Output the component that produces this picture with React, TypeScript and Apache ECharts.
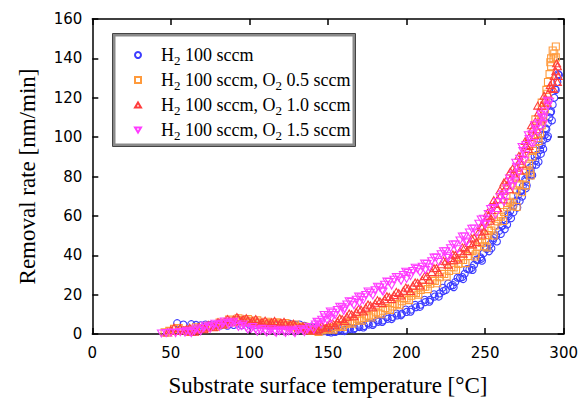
import React, { useEffect, useRef } from "react";
import * as echarts from "echarts";

const xRange = { min: 0, max: 300, interval: 50 };
const yRange = { min: 0, max: 160, interval: 20 };
const xTitle = "Substrate surface temperature [°C]";
const yTitle = "Removal rate [nm/min]";
const seriesNames = [
  "H2 100 sccm",
  "H2 100 sccm, O2 0.5 sccm",
  "H2 100 sccm, O2 1.0 sccm",
  "H2 100 sccm, O2 1.5 sccm",
];

const blueData = [
  [54,5.5],[58,4.8],[63,5.0],[66,4.6],[69,4.4],[72,4.8],[75,4.5],[78,4.7],[82,4.4],[86,4.2],[90,4.6],[95,4.4],[100,4.8],[104,4.5],[108,4.7],[112,4.3],[116,4.6],[120,4.9],[123,4.4],[126,5.1],[129,4.6],[132,4.8],[135,4.2],[138,3.5],[141,2.8],[144,2.0],[147,1.4],[150,1.0],[152,0.8],[155,1.3],[158,1.6],[161,2.1],[164,2.5],[167,3.0],[170,3.5],[173,4.1],[176,4.8],[179,5.4],[182,6.2],[185,6.9],[188,7.7],[191,8.6],[194,9.4],[197,10.3],[200,11.2],[203,12.4],[206,13.6],[209,14.9],[212,16.2],[215,17.4],[218,19.0],[221,20.6],[223,23.5],[225,22.4],[228,24.4],[231,26.4],[234,28.4],[237,30.6],[240,32.8],[243,35.2],[245,37.5],[247,39.0],[249,41.0],[251,43.2],[253,45.5],[255,47.6],[257,50.0],[259,52.4],[261,55.0],[263,57.6],[265,60.0],[266,62.5],[268,65.0],[270,67.8],[271,70.5],[273,72.6],[274,75.0],[276,77.8],[277,80.5],[279,83.0],[280,85.5],[282,88.0],[283,91.0],[285,93.5],[286,96.0],[287,98.5],[288,101.0],[289,104.0],[290,107.0],[291,110.0],[292,113.0],[293,116.5],[294,120.0],[295,124.0],[296,128.0],[297,131.5],
  [230,23.8],[236,27.9],[242,32.5],[248,37.2],[254,43.5],[260,50.8],[264,55.6],[268,61.8],[272,67.5],[276,74.0],[280,80.6],[284,87.5],[287,94.0],[290,100.5],
  [139.5,3.8],[142.5,2.9],[145.5,2.2],[148.5,1.6],[151.5,1.9],[154.5,1.0],[157.5,2.4],[160.5,1.5],[163.5,3.2],[166.5,2.4],[169.5,4.2],[172.5,3.3],[175.5,5.6],[178.5,4.6],[181.5,7.0],[184.5,6.1],[187.5,8.6],[190.5,7.6],[193.5,10.4],[196.5,9.5],[199.5,12.4],[202.5,11.3],[205.5,14.8],[208.5,13.8],[211.5,17.4],[214.5,16.4],[217.5,20.2],[220.5,19.0],[223.5,21.8],[226.5,25.6],[229.5,24.8],[232.5,28.6],[235.5,28.9],[238.5,33.0],[241.5,33.6],[244.5,37.8],[247.5,38.2],[250.5,43.8],[252.5,42.0],[255.5,48.8],[257.5,47.0],[260.5,54.8],[262.5,53.2],[264.5,60.8],[266.5,58.8],[268.5,67.0],[270.5,64.2],[272.5,72.8],[273.5,69.8],[275.5,78.6],[276.5,75.4],[278.5,84.5],[279.5,81.0],[281.5,90.2],[282.5,86.0],[284.5,96.0],[285.5,91.5],[286.5,101.0],[288.5,104.5],[289.5,99.5],[291.5,112.5],[292.5,108.5],[294.5,124.5],[296.5,132.0],
];

const orangeData = [
  [46,0.8],[49,1.6],[52,2.6],[55,3.0],[58,2.0],[61,1.2],[64,2.4],[68,2.8],[72,3.2],[76,3.8],[80,4.6],[83,5.4],[86,6.2],[89,6.8],[92,7.2],[95,7.0],[98,6.8],[101,6.4],[104,6.0],[107,5.6],[110,5.2],[113,5.5],[116,5.0],[119,5.4],[122,4.8],[125,4.4],[128,4.0],[131,3.6],[134,3.0],[137,2.4],[140,1.8],[143,1.5],[146,1.8],[149,2.2],[152,2.8],[155,3.5],[158,4.2],[161,5.0],[164,5.8],[167,6.6],[170,7.4],[173,8.2],[176,9.0],[179,9.8],[182,10.8],[185,11.8],[188,12.8],[191,14.0],[194,15.2],[197,16.6],[200,18.0],[203,19.4],[206,20.8],[209,22.4],[212,24.0],[215,25.5],[218,27.0],[221,28.8],[224,30.5],[227,32.0],[230,33.8],[233,35.6],[236,37.6],[239,39.6],[242,42.0],[245,44.4],[248,46.2],[250,48.0],[252,50.2],[254,52.6],[256,55.0],[258,57.2],[260,59.6],[262,62.0],[264,64.4],[266,67.2],[268,70.0],[270,73.0],[272,76.0],[274,79.5],[276,83.0],[278,86.5],[280,90.0],[282,94.0],[284,98.0],[285,102.0],[286,106.0],[287,110.0],[288,114.0],[289,118.0],[289,124.0],[290,128.0],[291,132.0],[292,136.0],[292,140.0],[294,142.5],[295,146.0],[293,144.0],
  [244,40.5],[251,44.0],[270,64.5],[276,75.5],[279,80.5],[282,109.0],[286,117.5],
  [62,1.8],[66,3.4],[70,2.6],[74,4.2],[78,3.6],[81,5.8],[84,4.8],[87,7.4],[90,6.0],[93,8.0],[96,6.2],[99,7.6],[102,5.6],[105,6.9],[108,4.8],[111,6.2],[114,4.6],[117,5.9],[120,4.4],[123,5.6],[126,3.8],[129,4.8],[132,3.0],[135,3.8],[138,1.8],[141,2.6],[144,1.0],[147,2.6],
  [150.5,3.0],[153.5,2.2],[156.5,4.4],[159.5,3.6],[162.5,6.0],[165.5,5.2],[168.5,7.8],[171.5,6.8],[174.5,9.4],[177.5,8.4],[180.5,11.0],[183.5,10.0],[186.5,13.2],[189.5,12.2],[192.5,15.4],[195.5,14.6],[198.5,18.2],[201.5,17.2],[204.5,21.0],[207.5,20.0],[210.5,24.0],[213.5,22.8],[216.5,27.2],[219.5,25.8],[222.5,30.6],[225.5,29.2],[228.5,34.0],[231.5,32.6],[234.5,37.6],[237.5,36.0],[240.5,42.0],[243.5,39.4],[246.5,46.5],[249.5,44.6],[252.5,52.4],[255.5,50.0],[258.5,59.4],[261.5,57.4],[264.5,66.5],[267.5,65.2],[270.5,75.5],[273.5,72.0],[276.5,85.5],[278.5,82.0],[280.5,93.0],[283.5,99.5],[285.5,108.0],[287.5,116.0],[289.5,122.0],[291.5,138.0],[293.5,140.0],[295,140.5],
];

const redData = [
  [48,0.8],[50,2.0],[52,3.2],[54,1.5],[56,3.0],[58,1.8],[60,2.6],[63,1.2],[66,2.0],[69,2.8],[72,3.4],[75,3.9],[78,4.5],[81,5.2],[84,6.0],[87,6.8],[90,7.4],[93,7.8],[96,7.5],[99,7.0],[102,6.8],[105,6.5],[108,6.1],[111,5.8],[114,6.0],[117,5.5],[120,5.8],[123,5.2],[126,4.8],[129,4.3],[132,3.6],[135,3.0],[138,2.5],[141,2.2],[144,2.6],[147,3.4],[150,4.4],[153,5.4],[156,6.4],[159,7.6],[162,8.8],[165,10.0],[168,11.2],[171,12.4],[174,13.4],[177,14.5],[180,15.6],[183,16.6],[186,17.6],[189,18.8],[192,19.8],[195,20.8],[198,22.0],[201,23.2],[204,24.5],[207,26.0],[210,27.6],[213,29.5],[216,31.5],[219,33.5],[222,35.4],[225,37.0],[228,38.6],[231,40.2],[234,42.0],[237,44.0],[240,46.2],[243,49.0],[246,52.0],[248,54.2],[250,57.0],[252,60.0],[254,63.0],[256,66.0],[258,68.5],[260,70.5],[262,72.8],[264,75.5],[266,78.5],[268,81.5],[270,84.5],[272,88.0],[274,92.0],[276,96.0],[278,100.0],[280,104.0],[282,108.0],[284,112.5],[286,116.0],[288,119.0],[290,122.0],[292,125.0],[293,128.0],[294,131.0],[295,133.5],[296,136.0],[296,128.0],
  [230,37.5],[236,40.8],[242,45.5],[248,50.5],[253,57.5],[258,64.0],[262,77.0],[266,82.5],[272,83.0],[278,95.5],[283,104.0],
  [62,3.2],[65,1.2],[68,3.6],[71,2.4],[74,4.6],[77,3.4],[80,6.0],[83,4.8],[86,7.6],[89,6.0],[92,8.6],[95,6.6],[98,8.0],[101,5.8],[104,7.6],[107,5.2],[110,6.8],[113,5.0],[116,6.6],[119,4.8],[122,6.2],[125,4.0],[128,5.2],[131,2.8],[134,3.8],[137,1.8],[140,3.0],[143,1.6],[146,4.2],[149,3.2],
  [151.5,5.6],[154.5,4.4],[157.5,8.0],[160.5,6.6],[163.5,10.4],[166.5,9.0],[169.5,12.8],[172.5,11.4],[175.5,15.0],[178.5,13.6],[181.5,17.2],[184.5,15.8],[187.5,19.2],[190.5,17.8],[193.5,21.4],[196.5,19.6],[199.5,23.6],[202.5,21.8],[205.5,26.2],[208.5,24.6],[211.5,29.4],[214.5,27.6],[217.5,33.4],[220.5,31.4],[223.5,37.2],[226.5,35.2],[229.5,40.4],[232.5,38.4],[235.5,44.0],[238.5,42.2],[241.5,48.5],[244.5,46.8],[247.5,55.0],[249.5,52.5],[251.5,61.5],[253.5,59.0],[255.5,68.0],[257.5,64.0],[259.5,73.0],[261.5,68.5],[263.5,78.0],[265.5,73.5],[267.5,84.0],[269.5,80.0],[271.5,90.5],[273.5,86.5],[275.5,98.0],[277.5,94.0],[279.5,106.0],[281.5,101.0],[283.5,116.0],[285.5,109.0],[287.5,121.0],[289.5,117.5],[291.5,126.5],[293.5,124.5],[295.5,137.5],[296.5,131.0],
];

const magentaData = [
  [44,0.3],[47,0.5],[50,0.8],[53,0.5],[56,1.0],[59,0.7],[62,1.2],[65,1.6],[68,2.2],[71,3.0],[74,3.6],[77,4.2],[80,4.6],[83,5.2],[86,5.6],[89,5.4],[92,4.8],[95,4.0],[98,3.2],[101,2.6],[104,2.2],[107,1.8],[110,1.5],[113,1.6],[116,1.3],[119,1.5],[122,1.2],[125,1.4],[128,1.2],[131,1.6],[134,1.8],[137,2.4],[140,3.5],[142,4.8],[144,6.0],[146,7.2],[148,8.4],[150,9.5],[153,10.8],[156,12.2],[159,13.6],[162,15.0],[165,16.2],[168,17.4],[171,18.6],[174,19.8],[177,21.0],[180,22.2],[183,23.6],[186,25.0],[189,26.4],[192,27.6],[195,28.8],[198,30.0],[201,31.0],[204,32.0],[207,33.0],[210,34.2],[213,35.5],[216,37.0],[219,38.8],[222,40.5],[225,42.0],[228,43.6],[231,45.5],[234,47.5],[237,49.5],[240,51.5],[243,53.6],[246,56.0],[249,58.5],[252,61.0],[255,64.0],[258,67.0],[261,71.0],[264,74.0],[266,77.5],[268,81.0],[270,85.0],[272,89.0],[274,93.0],[276,96.0],[278,99.0],[280,101.5],[282,104.0],[284,107.0],[286,110.0],[288,113.0],[290,116.0],[291,118.0],
  [152,7.8],[160,11.8],[170,15.8],[185,21.5],[200,28.0],[212,32.5],[226,39.5],[238,46.5],[250,55.5],[262,67.0],[269,77.5],[275,88.0],[281,97.0],[287,106.5],
  [60,1.6],[63,0.5],[66,2.8],[69,1.4],[72,4.2],[75,2.6],[78,5.2],[81,3.6],[84,6.4],[87,4.6],[90,6.2],[93,3.6],[96,4.8],[99,2.2],[102,3.6],[105,1.2],[108,2.6],[111,0.8],[114,2.4],[117,0.6],[120,2.2],[123,0.6],[126,2.2],[129,0.5],[132,2.4],[135,1.0],[138,3.6],[141,2.2],[143,6.2],
  [145.5,4.8],[147.5,9.6],[149.5,7.0],[151.5,11.4],[154.5,9.6],[157.5,13.8],[160.5,12.8],[163.5,16.6],[166.5,14.6],[169.5,19.0],[172.5,17.2],[175.5,21.6],[178.5,19.6],[181.5,24.0],[184.5,22.0],[187.5,26.6],[190.5,24.6],[193.5,29.0],[196.5,27.0],[199.5,31.6],[202.5,29.4],[205.5,33.6],[208.5,31.4],[211.5,35.8],[214.5,33.8],[217.5,38.8],[220.5,36.6],[223.5,42.0],[226.5,38.6],[229.5,45.5],[232.5,43.0],[235.5,49.5],[238.5,47.0],[241.5,53.5],[244.5,51.4],[247.5,58.2],[250.5,56.0],[253.5,63.5],[256.5,60.5],[259.5,69.5],[262.5,70.0],[265.5,79.0],[267.5,75.0],[269.5,87.0],[271.5,82.0],[273.5,95.0],[275.5,91.0],[277.5,101.0],[279.5,97.0],[281.5,106.0],[283.5,102.5],[285.5,111.5],[287.5,110.0],[289.5,118.5],
];

const colors = ["#3c3cff", "#ff9a3c", "#ff3c3c", "#ff3cff"];
const symbols = [
  "circle",
  "rect",
  "path://M5,0L10,8.66L0,8.66Z",
  "path://M0,0L10,0L5,8.66Z",
];
const symbolSizes: any[] = [7, 7, [8, 7], [8, 7]];
const allData = [blueData, orangeData, redData, magentaData];

const axisLine = { show: true, onZero: false, lineStyle: { color: "#000", width: 1.5 } };
const axisTick = { show: true, inside: true, length: 6, lineStyle: { color: "#000", width: 1.5 } };
const tickFont = { color: "#000", fontFamily: "DejaVu Sans", fontSize: 15 };
const titleFont = { color: "#000", fontFamily: "Liberation Serif", fontSize: 23 };

export default function App() {
  const ref = useRef<HTMLDivElement>(null);
  useEffect(() => {
    const chart = echarts.init(ref.current!, null, { renderer: "svg" });
    const option: any = {
      animation: false,
      backgroundColor: "#fff",
      grid: { left: 92.3, right: 15, top: 19, bottom: 68, containLabel: false },
      xAxis: [
        {
          type: "value", ...xRange, position: "bottom",
          axisLine, axisTick,
          axisLabel: { ...tickFont, margin: 11 },
          splitLine: { show: false },
          name: xTitle, nameLocation: "middle", nameGap: 40, nameTextStyle: titleFont,
        },
        {
          type: "value", ...xRange, position: "top",
          axisLine, axisTick, axisLabel: { show: false }, splitLine: { show: false },
        },
      ],
      yAxis: [
        {
          type: "value", ...yRange, position: "left",
          axisLine, axisTick,
          axisLabel: { ...tickFont, margin: 10 },
          splitLine: { show: false },
          name: yTitle, nameLocation: "middle", nameGap: 53, nameTextStyle: titleFont,
        },
        {
          type: "value", ...yRange, position: "right",
          axisLine, axisTick, axisLabel: { show: false }, splitLine: { show: false },
        },
      ],
      legend: {
        show: true,
        orient: "vertical",
        left: 134,
        top: 45,
        padding: 0,
        itemWidth: 6,
        itemHeight: 6,
        itemGap: 3.5,
        data: seriesNames,
        formatter: (name: string) => name.replace(/([HO])2/g, "$1{sub|2}"),
        textStyle: {
          color: "#000",
          fontFamily: "Liberation Serif",
          fontSize: 18,
          lineHeight: 20,
          padding: [0, 0, 0, 15],
          rich: {
            sub: { fontFamily: "Liberation Serif", fontSize: 13, lineHeight: 4, verticalAlign: "top", padding: [8.5, 0, 0, 0], color: "#000" },
          },
        },
      },
      graphic: [
        { type: "rect", shape: { x: 114, y: 35, width: 240, height: 110 }, style: { fill: "none", stroke: "#8a8a8a", lineWidth: 3 }, z: 10 },
        { type: "rect", shape: { x: 112.5, y: 33.5, width: 243, height: 113 }, style: { fill: "none", stroke: "#444", lineWidth: 1 }, z: 10 },
      ],
      series: allData.map((d, i) => ({
        type: "scatter",
        name: seriesNames[i],
        data: d,
        symbol: symbols[i],
        symbolSize: symbolSizes[i],
        itemStyle: { color: "rgba(0,0,0,0)", borderColor: colors[i], borderWidth: 1.1, opacity: 1 },
        emphasis: { disabled: true },
      })),
    };
    chart.setOption(option);
    return () => chart.dispose();
  }, []);
  return (
    <div
      ref={ref}
      style={{ position: "fixed", left: 0, top: 0, width: 581, height: 402, background: "#fff" }}
    />
  );
}
